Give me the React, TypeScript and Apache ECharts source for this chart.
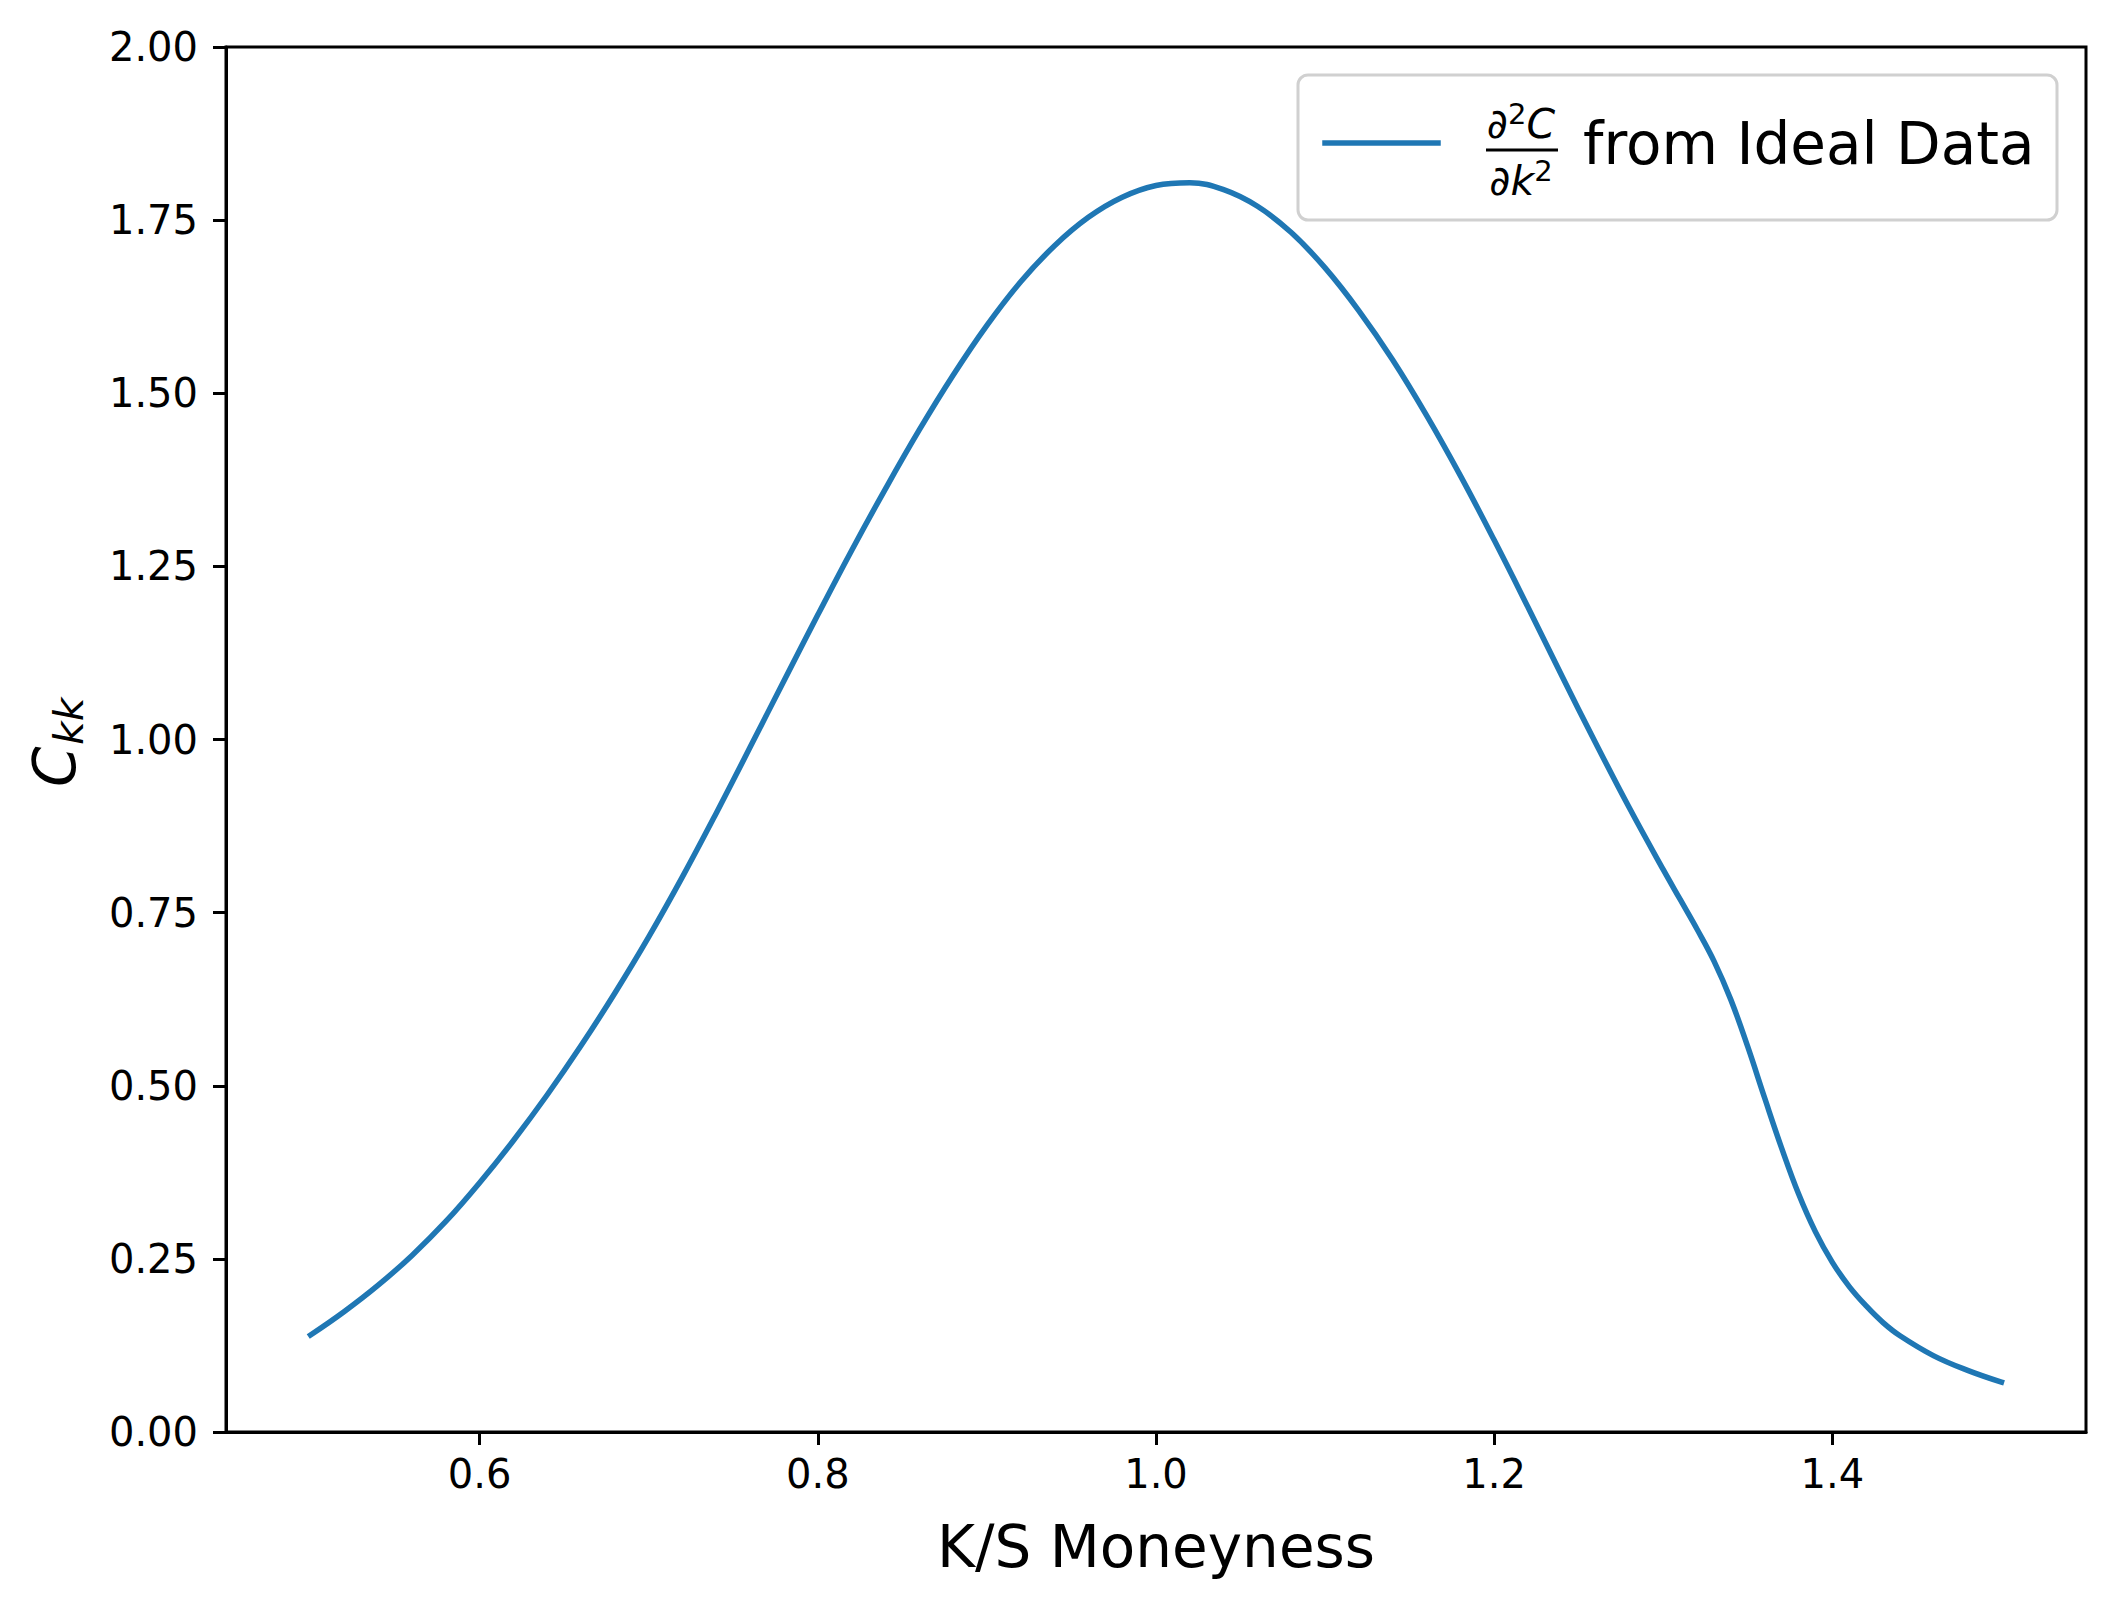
import React, { useEffect, useRef } from "react";
import * as echarts from "echarts";

// K/S moneyness grid (x) and second strike-derivative of the call price (y)
const moneyness = [
  0.5, 0.52, 0.54, 0.56, 0.58, 0.6, 0.62, 0.64, 0.66, 0.68,
  0.7, 0.72, 0.74, 0.76, 0.78, 0.8, 0.82, 0.84, 0.86, 0.88,
  0.9, 0.92, 0.94, 0.96, 0.98, 1.0, 1.02, 1.04, 1.06, 1.08,
  1.1, 1.12, 1.14, 1.16, 1.18, 1.2, 1.22, 1.24, 1.26, 1.28,
  1.3, 1.31, 1.32, 1.33, 1.34, 1.35, 1.36, 1.37, 1.38, 1.39,
  1.4, 1.41, 1.42, 1.43, 1.44, 1.46, 1.48, 1.5,
];
const ckkValues = [
  0.14, 0.174, 0.212, 0.255, 0.304, 0.36, 0.421, 0.487, 0.558, 0.634,
  0.715, 0.802, 0.894, 0.989, 1.085, 1.18, 1.273, 1.362, 1.447, 1.526,
  1.598, 1.661, 1.713, 1.754, 1.783, 1.8, 1.804, 1.794, 1.77, 1.732,
  1.681, 1.619, 1.548, 1.468, 1.381, 1.288, 1.191, 1.092, 0.995, 0.901,
  0.812, 0.769, 0.726, 0.68, 0.624, 0.556, 0.482, 0.41, 0.344, 0.289,
  0.245, 0.21, 0.182, 0.158, 0.139, 0.11, 0.089, 0.072,
];
const xTickValues = [0.6, 0.8, 1.0, 1.2, 1.4];
const xRange = [0.45, 1.55];
const yRange = [0, 2];
const yTickStep = 0.25;

const seriesName = "∂²C/∂k² from Ideal Data";
const xAxisTitle = "K/S Moneyness";
const legendText = "from Ideal Data";

const FONT = "DejaVu Sans";
const BLUE = "#1f77b4";

const fracRich = {
  i: {
    fontFamily: FONT,
    fontStyle: "italic",
    fontSize: 41,
    lineHeight: 50,
    verticalAlign: "middle",
    fill: "#000",
  },
  s: {
    fontFamily: FONT,
    fontSize: 29,
    lineHeight: 29,
    verticalAlign: "top",
    fill: "#000",
  },
};

export default function App() {
  const ref = useRef<HTMLDivElement>(null);

  useEffect(() => {
    if (!ref.current) return;
    const chart = echarts.init(ref.current, undefined, { renderer: "svg" });
    const data = moneyness.map((x, i) => [x, ckkValues[i]]);

    chart.setOption({
      animation: false,
      backgroundColor: "#ffffff",
      grid: {
        left: 226,
        right: 30,
        top: 47,
        bottom: 175,
        show: true,
        borderColor: "#000000",
        borderWidth: 3,
        backgroundColor: "transparent",
      },
      xAxis: {
        type: "value",
        min: xRange[0],
        max: xRange[1],
        name: xAxisTitle,
        nameLocation: "middle",
        nameGap: 115,
        nameTextStyle: {
          fontFamily: FONT,
          fontSize: 58,
          color: "#000",
          verticalAlign: "middle",
        },
        axisLine: { show: true, onZero: false, lineStyle: { color: "#000", width: 3 } },
        axisTick: {
          show: true,
          length: 13,
          inside: false,
          customValues: xTickValues,
          lineStyle: { color: "#000", width: 3 },
        },
        axisLabel: {
          show: true,
          customValues: xTickValues,
          margin: 22,
          fontFamily: FONT,
          fontSize: 40,
          color: "#000",
          formatter: (v: number) => v.toFixed(1),
        },
        splitLine: { show: false },
      },
      yAxis: {
        type: "value",
        min: yRange[0],
        max: yRange[1],
        interval: yTickStep,
        axisLine: { show: true, onZero: false, lineStyle: { color: "#000", width: 3 } },
        axisTick: {
          show: true,
          length: 13,
          inside: false,
          lineStyle: { color: "#000", width: 3 },
        },
        axisLabel: {
          show: true,
          margin: 28,
          fontFamily: FONT,
          fontSize: 40,
          color: "#000",
          formatter: (v: number) => v.toFixed(2),
        },
        splitLine: { show: false },
      },
      series: [
        {
          name: seriesName,
          type: "line",
          data,
          showSymbol: false,
          symbol: "none",
          smooth: 0.4,
          lineStyle: { color: BLUE, width: 5.5, cap: "square", join: "round" },
          itemStyle: { color: BLUE },
        },
      ],
      graphic: [
        // y-axis title C_kk (rotated)
        {
          type: "text",
          x: 55,
          y: 787,
          rotation: Math.PI / 2,
          style: {
            text: "C",
            fontFamily: FONT,
            fontStyle: "italic",
            fontSize: 58,
            fill: "#000",
            textAlign: "left",
            textVerticalAlign: "middle",
          },
        },
        {
          type: "text",
          x: 69,
          y: 745,
          rotation: Math.PI / 2,
          style: {
            text: "kk",
            fontFamily: FONT,
            fontStyle: "italic",
            fontSize: 41,
            fill: "#000",
            textAlign: "left",
            textVerticalAlign: "middle",
          },
        },
        // legend
        {
          type: "group",
          children: [
            {
              type: "rect",
              shape: { x: 1298, y: 75, width: 759, height: 145, r: 10 },
              style: { fill: "rgba(255,255,255,0.8)", stroke: "#d0d0d0", lineWidth: 3 },
            },
            {
              type: "line",
              shape: { x1: 1325, y1: 143, x2: 1438, y2: 143 },
              style: { stroke: BLUE, lineWidth: 5.5, lineCap: "square" },
            },
            {
              type: "text",
              x: 1521,
              y: 124,
              style: {
                text: "{i|∂}{s|2}{i|C}",
                textAlign: "center",
                textVerticalAlign: "middle",
                rich: fracRich,
              },
            },
            {
              type: "line",
              shape: { x1: 1486, y1: 150, x2: 1558, y2: 150 },
              style: { stroke: "#000", lineWidth: 3 },
            },
            {
              type: "text",
              x: 1521,
              y: 181,
              style: {
                text: "{i|∂k}{s|2}",
                textAlign: "center",
                textVerticalAlign: "middle",
                rich: fracRich,
              },
            },
            {
              type: "text",
              x: 1583,
              y: 144,
              style: {
                text: legendText,
                fontFamily: FONT,
                fontSize: 58,
                fill: "#000",
                textAlign: "left",
                textVerticalAlign: "middle",
              },
            },
          ],
        },
      ],
    });

    return () => chart.dispose();
  }, []);

  return (
    <div
      ref={ref}
      style={{ position: "absolute", left: 0, top: 0, width: 2116, height: 1607, background: "#fff" }}
    />
  );
}
